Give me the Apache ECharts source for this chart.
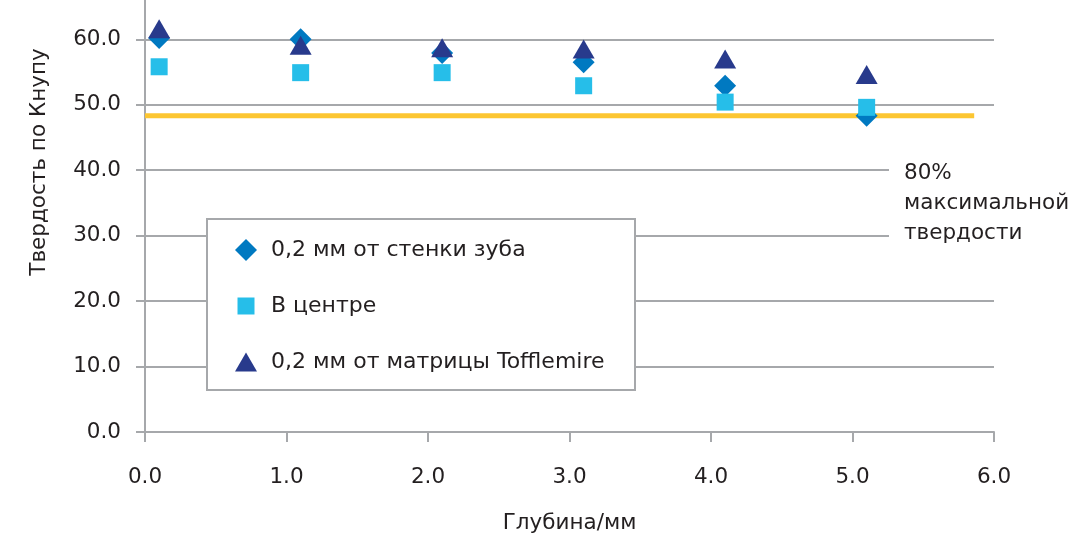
<!DOCTYPE html>
<html>
<head>
<meta charset="utf-8">
<script src="https://cdn.jsdelivr.net/npm/echarts@6/dist/echarts.min.js"></script>
<style>
  html, body { margin: 0; padding: 0; background: #fff; }
  #chart { width: 1087px; height: 534px; }
</style>
</head>
<body>
<div id="chart"></div>
<script>
// Depth positions (mm)
const depths = [0.1, 1.1, 2.1, 3.1, 4.1, 5.1];
// Knoop hardness, 0.2 mm from tooth wall
const wallValues = [60.2, 60.0, 57.9, 56.5, 52.9, 48.3];
// Knoop hardness, center
const centerValues = [55.8, 54.9, 54.9, 52.9, 50.4, 49.6];
// Knoop hardness, 0.2 mm from Tofflemire matrix
const matrixValues = [61.6, 59.1, 58.7, 58.5, 57.0, 54.6];
// 80% of max hardness reference line
const thresholdX = [0, 5.86];
const thresholdY = 48.3;

const seriesNames = ['0,2 мм от стенки зуба', 'В центре', '0,2 мм от матрицы Tofflemire'];
const annotationLines = ['80%', 'максимальной', 'твердости'];
const xAxisName = 'Глубина/мм';
const yAxisName = 'Твердость по Кнупу';

const FONT = '"DejaVu Sans", sans-serif';
const FS = 21.5;
const TXT = '#231f20';
const GRID = '#a6a8ab';

const pairs = arr => depths.map((d, i) => [d, arr[i]]);

const chart = echarts.init(document.getElementById('chart'), null, { renderer: 'canvas' });
chart.setOption({
  animation: false,
  backgroundColor: '#ffffff',
  grid: { left: 145, right: 93, top: 0, bottom: 102, containLabel: false, outerBoundsMode: 'none' },
  xAxis: {
    type: 'value', min: 0, max: 6, interval: 1,
    name: xAxisName, nameLocation: 'middle', nameGap: 80,
    nameTextStyle: { fontFamily: FONT, fontSize: FS, color: TXT },
    axisLine: { show: true, lineStyle: { color: GRID, width: 2 } },
    axisTick: { show: true, length: 10, lineStyle: { color: GRID, width: 2 } },
    axisLabel: { margin: 34, fontFamily: FONT, fontSize: FS, color: TXT, formatter: v => v.toFixed(1) },
    splitLine: { show: false }
  },
  yAxis: {
    type: 'value', min: 0, max: 66, interval: 10,
    axisLine: { show: true, lineStyle: { color: GRID, width: 2 } },
    axisTick: { show: true, length: 9, lineStyle: { color: GRID, width: 2 } },
    axisLabel: { margin: 24, fontFamily: FONT, fontSize: FS, color: TXT, showMaxLabel: false,
      formatter: v => (v % 10 === 0 ? v.toFixed(1) : '') },
    splitLine: { show: true, showMaxLine: false, lineStyle: { color: GRID, width: 2 } }
  },
  legend: {
    orient: 'vertical', left: 207, top: 219,
    padding: [20, 20, 17, 19],
    itemWidth: 40, itemHeight: 22, itemGap: 34,
    backgroundColor: '#ffffff', borderColor: GRID, borderWidth: 2, borderRadius: 0,
    textStyle: { fontFamily: FONT, fontSize: 22, color: TXT, lineHeight: 22, width: 344 },
    data: [
      { name: seriesNames[0], icon: 'path://M0,0M40,22M9,11L20,0L31,11L20,22Z' },
      { name: seriesNames[1], icon: 'path://M0,0M40,22M11.5,2.5L28.5,2.5L28.5,19.5L11.5,19.5Z' },
      { name: seriesNames[2], icon: 'path://M0,0M40,22M9,20.5L20,1.5L31,20.5Z' }
    ]
  },
  series: [
    {
      type: 'line', name: 'threshold', silent: true,
      data: thresholdX.map(x => [x, thresholdY]),
      symbol: 'none', lineStyle: { color: '#fcc632', width: 5 }, z: 1
    },
    {
      type: 'scatter', name: seriesNames[0], data: pairs(wallValues),
      symbol: 'diamond', symbolSize: [22, 22], itemStyle: { color: '#0079c1', opacity: 1 }, z: 2
    },
    {
      type: 'scatter', name: seriesNames[1], data: pairs(centerValues),
      symbol: 'rect', symbolSize: [17, 17], itemStyle: { color: '#26bee9', opacity: 1 }, z: 3
    },
    {
      type: 'scatter', name: seriesNames[2], data: pairs(matrixValues),
      symbol: 'triangle', symbolSize: [22, 19], itemStyle: { color: '#283a8c', opacity: 1 }, z: 4
    }
  ],
  graphic: [
    {
      type: 'text', x: 39, y: 162, rotation: Math.PI / 2,
      style: { text: yAxisName, font: FS + 'px ' + FONT, fill: TXT, align: 'center', verticalAlign: 'middle' }
    },
    {
      type: 'text', left: 889, top: 153, z: 10,
      style: {
        text: annotationLines.join('\n'), font: FS + 'px ' + FONT, fill: TXT,
        lineHeight: 30, backgroundColor: '#ffffff', padding: [5, 20, 5, 15]
      }
    }
  ]
});
</script>
</body>
</html>
